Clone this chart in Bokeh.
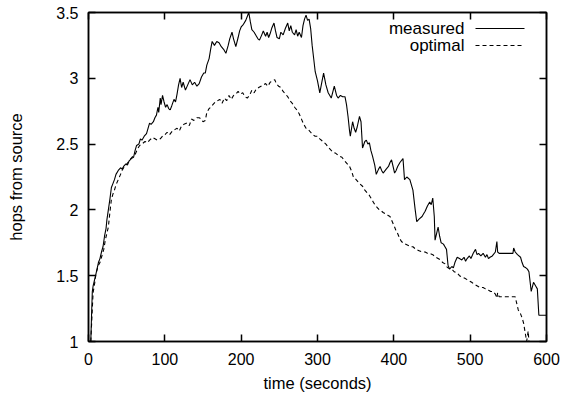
from bokeh.plotting import figure
from bokeh.models import LinearAxis, Range1d, Label, Arrow, FixedTicker
from bokeh.embed import file_html
from bokeh.resources import INLINE

# ---- data ----
t_measured = [3, 4, 5, 6, 8, 10, 13, 15, 17, 19, 21, 23, 24, 26, 28, 30, 32, 34, 36, 39,
              42, 44, 46, 49, 51, 53, 56, 59, 61, 63, 66, 68, 70, 73, 76, 78, 80, 82, 85, 87,
              89, 91, 92, 94, 95, 97, 99, 101, 103, 105, 107, 109, 112, 114, 116, 118, 120, 122, 124, 127,
              130, 133, 136, 139, 142, 145, 148, 151, 153, 155, 158, 160, 162, 165, 168, 171, 174, 177, 180, 183,
              185, 188, 190, 193, 196, 198, 200, 203, 206, 208, 210, 212, 214, 217, 220, 222, 224, 227, 229, 232,
              234, 236, 238, 240, 243, 245, 247, 250, 252, 255, 258, 261, 263, 265, 267, 270, 272, 274, 276, 279,
              281, 283, 285, 287, 289, 291, 293, 295, 297, 300, 303, 306, 308, 311, 314, 318, 322, 325, 327, 330,
              333, 336, 338, 340, 342, 343, 346, 348, 350, 352, 355, 357, 359, 362, 364, 366, 368, 370, 372, 375,
              377, 380, 382, 384, 386, 390, 393, 395, 397, 399, 401, 403, 405, 408, 412, 414, 417, 421, 425, 428,
              430, 433, 437, 439, 441, 444, 447, 449, 451, 453, 454, 456, 458, 460, 462, 465, 467, 469, 471, 473,
              476, 478, 480, 483, 486, 489, 492, 494, 496, 499, 501, 504, 507, 509, 511, 514, 517, 520, 522, 524,
              526, 529, 533, 535, 536, 538, 556, 557, 559, 562, 566, 568, 570, 573, 575, 577, 578, 580, 583, 586,
              588, 590, 600]
y_measured = [1.00, 1.20, 1.38, 1.42, 1.47, 1.52, 1.60, 1.63, 1.68, 1.72, 1.80, 1.86, 1.92, 2.00, 2.08, 2.17, 2.20, 2.23, 2.27, 2.30,
              2.32, 2.31, 2.33, 2.35, 2.34, 2.37, 2.39, 2.40, 2.45, 2.49, 2.50, 2.54, 2.53, 2.56, 2.58, 2.62, 2.66, 2.65, 2.67, 2.70,
              2.72, 2.78, 2.74, 2.85, 2.80, 2.87, 2.82, 2.78, 2.80, 2.77, 2.76, 2.79, 2.84, 2.82, 2.88, 2.95, 3.00, 2.93, 2.97, 2.91,
              2.95, 2.99, 2.95, 2.97, 2.94, 2.96, 3.01, 3.04, 3.04, 3.10, 3.15, 3.22, 3.28, 3.25, 3.28, 3.27, 3.24, 3.22, 3.19, 3.25,
              3.30, 3.35, 3.30, 3.24, 3.31, 3.36, 3.39, 3.41, 3.44, 3.47, 3.50, 3.43, 3.37, 3.35, 3.32, 3.30, 3.29, 3.33, 3.36, 3.32,
              3.35, 3.31, 3.34, 3.38, 3.42, 3.36, 3.31, 3.30, 3.35, 3.33, 3.38, 3.42, 3.36, 3.40, 3.35, 3.33, 3.37, 3.32, 3.35, 3.31,
              3.40, 3.45, 3.48, 3.44, 3.45, 3.38, 3.25, 3.15, 3.05, 2.98, 2.89, 2.98, 3.04, 2.95, 2.89, 2.85, 2.94, 2.87, 2.85, 2.87,
              2.86, 2.86, 2.80, 2.71, 2.60, 2.56, 2.67, 2.62, 2.59, 2.63, 2.71, 2.67, 2.47, 2.52, 2.53, 2.50, 2.51, 2.45, 2.41, 2.34,
              2.27, 2.31, 2.33, 2.30, 2.28, 2.31, 2.33, 2.36, 2.38, 2.33, 2.28, 2.30, 2.33, 2.36, 2.39, 2.23, 2.25, 2.23, 2.15, 2.00,
              1.91, 1.93, 1.95, 1.97, 1.99, 2.03, 2.06, 2.04, 2.09, 1.95, 1.77, 1.82, 1.87, 1.80, 1.75, 1.74, 1.72, 1.70, 1.58, 1.55,
              1.57, 1.56, 1.60, 1.64, 1.63, 1.62, 1.64, 1.61, 1.63, 1.65, 1.63, 1.67, 1.70, 1.66, 1.67, 1.65, 1.67, 1.64, 1.66, 1.63,
              1.64, 1.65, 1.68, 1.76, 1.68, 1.67, 1.67, 1.71, 1.68, 1.66, 1.64, 1.60, 1.57, 1.56, 1.55, 1.53, 1.48, 1.38, 1.45, 1.42,
              1.40, 1.20, 1.20]

t_optimal = [3, 5, 6, 8, 10, 13, 15, 17, 20, 22, 24, 26, 28, 30, 32, 34, 36, 39, 42, 44,
             46, 49, 53, 57, 61, 64, 67, 70, 74, 77, 80, 84, 87, 90, 94, 97, 100, 103, 106, 110,
             113, 116, 119, 122, 125, 129, 132, 135, 138, 142, 145, 148, 150, 153, 155, 158, 160, 163, 166, 169,
             172, 175, 178, 181, 184, 187, 190, 193, 196, 199, 202, 205, 208, 211, 214, 217, 220, 223, 226, 229,
             232, 235, 238, 241, 244, 246, 249, 252, 255, 258, 261, 264, 267, 270, 273, 276, 279, 282, 285, 288,
             291, 294, 297, 300, 303, 307, 311, 315, 320, 324, 328, 332, 336, 339, 342, 345, 347, 349, 352, 355,
             359, 362, 365, 368, 371, 373, 375, 378, 381, 384, 386, 389, 392, 395, 398, 401, 403, 405, 408, 410,
             412, 415, 419, 422, 425, 429, 433, 437, 441, 444, 447, 451, 455, 458, 461, 464, 467, 469, 471, 474,
             476, 479, 483, 486, 489, 493, 496, 499, 502, 504, 507, 510, 513, 517, 520, 524, 527, 530, 533, 535,
             536, 538, 559, 561, 563, 566, 568, 570, 572, 574, 576, 577]
y_optimal = [1.00, 1.25, 1.37, 1.44, 1.52, 1.58, 1.60, 1.64, 1.70, 1.77, 1.82, 1.87, 1.98, 2.08, 2.12, 2.15, 2.19, 2.23, 2.27, 2.30,
             2.32, 2.34, 2.37, 2.40, 2.42, 2.46, 2.49, 2.50, 2.52, 2.51, 2.53, 2.55, 2.54, 2.53, 2.54, 2.56, 2.57, 2.59, 2.57, 2.60,
             2.61, 2.62, 2.60, 2.64, 2.65, 2.66, 2.64, 2.69, 2.68, 2.70, 2.70, 2.69, 2.67, 2.68, 2.74, 2.77, 2.78, 2.80, 2.82, 2.83,
             2.84, 2.81, 2.85, 2.83, 2.87, 2.84, 2.87, 2.88, 2.90, 2.88, 2.89, 2.86, 2.85, 2.87, 2.91, 2.89, 2.92, 2.93, 2.94, 2.95,
             2.96, 2.94, 2.97, 2.98, 2.99, 2.96, 2.94, 2.93, 2.90, 2.88, 2.86, 2.83, 2.81, 2.78, 2.76, 2.73, 2.69, 2.65, 2.62, 2.61,
             2.59, 2.57, 2.56, 2.56, 2.54, 2.52, 2.50, 2.47, 2.44, 2.43, 2.41, 2.40, 2.37, 2.35, 2.33, 2.29, 2.25, 2.24, 2.22, 2.20,
             2.18, 2.15, 2.13, 2.11, 2.08, 2.06, 2.04, 2.02, 2.00, 1.99, 1.98, 1.97, 1.96, 1.95, 1.91, 1.87, 1.84, 1.82, 1.78, 1.76,
             1.75, 1.74, 1.73, 1.72, 1.72, 1.70, 1.69, 1.68, 1.68, 1.67, 1.67, 1.66, 1.64, 1.63, 1.62, 1.60, 1.59, 1.57, 1.56, 1.55,
             1.55, 1.53, 1.52, 1.50, 1.49, 1.48, 1.47, 1.46, 1.45, 1.44, 1.43, 1.42, 1.41, 1.41, 1.40, 1.39, 1.38, 1.38, 1.36, 1.33,
             1.37, 1.34, 1.34, 1.29, 1.24, 1.21, 1.18, 1.14, 1.07, 1.00, 1.08, 1.00]

x_ticks = [0, 100, 200, 300, 400, 500, 600]
x_tick_labels = ["0", "100", "200", "300", "400", "500", "600"]
y_ticks = [1, 1.5, 2, 2.5, 3, 3.5]
y_tick_labels = ["1", "1.5", "2", "2.5", "3", "3.5"]
series_names = ["measured", "optimal"]

FONT = "Liberation Sans"

p = figure(width=560, height=395, x_range=Range1d(0, 600), y_range=Range1d(1, 3.5),
           output_backend="svg", toolbar_location=None,
           min_border_left=88, min_border_right=14, min_border_top=12, min_border_bottom=54)
p.background_fill_color = "white"
p.border_fill_color = "white"
p.outline_line_color = "black"
p.outline_line_width = 1.5
p.xgrid.visible = False
p.ygrid.visible = False

xa = p.below[0]
ya = p.left[0]

p.line(t_measured, y_measured, line_color="black", line_width=1.1)
p.line(t_optimal, y_optimal, line_color="black", line_width=1.1, line_dash="4 3")

def style_axis(ax, ticks, labels, show_labels=True):
    ax.ticker = FixedTicker(ticks=ticks)
    ax.major_tick_in = 7
    ax.major_tick_out = 0
    ax.minor_tick_line_color = None
    ax.major_tick_line_width = 1.5
    ax.axis_line_width = 1.5
    ax.major_tick_line_color = "black"
    ax.axis_line_color = "black"
    ax.major_label_text_font = FONT
    ax.major_label_text_font_size = "16px"
    ax.major_label_text_color = "black"
    if show_labels:
        ax.major_label_overrides = {t: l for t, l in zip(ticks, labels)}
    else:
        ax.major_label_overrides = {t: "" for t in ticks}
        ax.major_label_standoff = 0

style_axis(xa, x_ticks, x_tick_labels)
style_axis(ya, y_ticks, y_tick_labels)
xa.major_label_standoff = 11
ya.major_label_standoff = 10

top = LinearAxis()
style_axis(top, x_ticks, x_tick_labels, show_labels=False)
p.add_layout(top, "above")
right = LinearAxis()
style_axis(right, y_ticks, y_tick_labels, show_labels=False)
p.add_layout(right, "right")

xa.axis_label = "time (seconds)"
ya.axis_label = "hops from source"
for ax in (xa, ya):
    ax.axis_label_text_font = FONT
    ax.axis_label_text_font_size = "16.5px"
    ax.axis_label_text_font_style = "normal"
    ax.axis_label_text_color = "black"
xa.axis_label_standoff = 6
ya.axis_label_standoff = 28

# legend (label on the left, line sample on the right), frame-relative screen units
for i, (name, dash) in enumerate(zip(series_names, ["solid", "4 3"])):
    ypos = 313 - 17 * i
    p.add_layout(Label(x=376, y=ypos, x_units="screen", y_units="screen", text=name,
                       text_align="right", text_baseline="middle", text_font=FONT,
                       text_font_size="17px", text_color="black"))
    p.add_layout(Arrow(end=None, x_start=387, y_start=ypos, x_end=436, y_end=ypos,
                       start_units="screen", end_units="screen",
                       line_color="black", line_width=1.1, line_dash=dash))

open("out.html", "w").write(file_html(p, INLINE))
